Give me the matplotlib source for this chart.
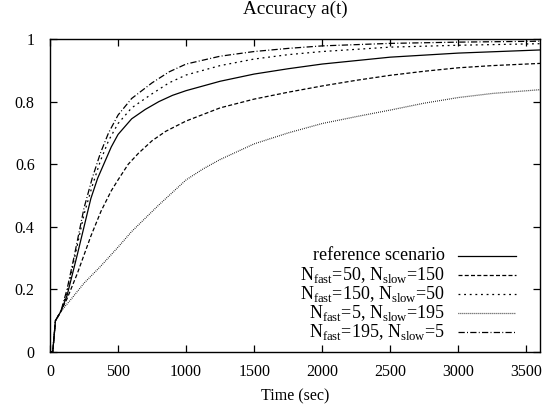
import matplotlib
matplotlib.use('Agg')
from matplotlib import pyplot as plt
import numpy as np

plt.rcParams['font.family'] = ['Liberation Serif', 'DejaVu Serif']
plt.rcParams['mathtext.fontset'] = 'custom'
plt.rcParams['mathtext.rm'] = 'Liberation Serif'
plt.rcParams['font.size'] = 11.5

# time axis (sec) for each series
t_ref = [0, 20, 40, 80, 125, 200, 250, 300, 350, 400, 450, 500, 600, 700, 800, 900, 1000,
         1250, 1500, 1750, 2000, 2500, 3000, 3600]
a_ref = [0, 0, 0.10, 0.13, 0.18, 0.31, 0.40, 0.49, 0.555, 0.605, 0.655, 0.695, 0.745, 0.775,
         0.80, 0.82, 0.835, 0.865, 0.888, 0.905, 0.92, 0.942, 0.955, 0.965]

t_50_150 = [0, 20, 40, 80, 125, 200, 250, 300, 375, 450, 500, 575, 650, 750, 850, 1000,
            1250, 1500, 1750, 2000, 2250, 2500, 2750, 3000, 3250, 3600]
a_50_150 = [0, 0, 0.10, 0.13, 0.17, 0.25, 0.31, 0.37, 0.45, 0.515, 0.55, 0.60, 0.635, 0.675,
            0.705, 0.738, 0.78, 0.808, 0.83, 0.85, 0.868, 0.884, 0.897, 0.908, 0.915, 0.922]

t_150_50 = [0, 20, 40, 80, 125, 175, 250, 310, 370, 430, 500, 600, 750, 875, 1000,
            1250, 1500, 1750, 2000, 2500, 3000, 3600]
a_150_50 = [0, 0, 0.10, 0.13, 0.19, 0.29, 0.44, 0.53, 0.61, 0.675, 0.73, 0.78, 0.825, 0.86,
            0.885, 0.915, 0.936, 0.95, 0.96, 0.974, 0.98, 0.985]

t_5_195 = [0, 20, 40, 80, 150, 250, 370, 500, 600, 800, 1000, 1125, 1250, 1500, 1750,
           2000, 2250, 2500, 2750, 3000, 3250, 3600]
a_5_195 = [0, 0, 0.10, 0.13, 0.166, 0.22, 0.273, 0.335, 0.385, 0.47, 0.55, 0.585, 0.615,
           0.665, 0.70, 0.73, 0.752, 0.773, 0.795, 0.813, 0.826, 0.838]

t_195_5 = [0, 20, 40, 80, 125, 175, 250, 310, 370, 430, 500, 600, 750, 875, 1000,
           1250, 1500, 1750, 2000, 2500, 3000, 3600]
a_195_5 = [0, 0, 0.10, 0.13, 0.20, 0.30, 0.46, 0.555, 0.635, 0.70, 0.757, 0.81, 0.86, 0.895,
           0.92, 0.945, 0.96, 0.97, 0.978, 0.986, 0.99, 0.993]

labels = ['reference scenario',
          r'N$_{\rm fast}$=50, N$_{\rm slow}$=150',
          r'N$_{\rm fast}$=150, N$_{\rm slow}$=50',
          r'N$_{\rm fast}$=5, N$_{\rm slow}$=195',
          r'N$_{\rm fast}$=195, N$_{\rm slow}$=5']

xticks = [0, 500, 1000, 1500, 2000, 2500, 3000, 3500]
yticks = [0, 0.2, 0.4, 0.6, 0.8, 1]
yticklabels = ['0', '0.2', '0.4', '0.6', '0.8', '1']

series = [(t_ref, a_ref), (t_50_150, a_50_150), (t_150_50, a_150_50),
          (t_5_195, a_5_195), (t_195_5, a_195_5)]
dashes = [(), (3.2, 1.8), (1.5, 3.0), (0.6, 1.0), (5, 1.8, 0.8, 1.8)]

fig = plt.figure(figsize=(5.58, 4.12), dpi=100)
ax = fig.add_axes([50/558, 1 - 352/412, 490/558, 313/412])

for (t, a), d in zip(series, dashes):
    line, = ax.plot(t, a, color='black', lw=0.9)
    if d:
        line.set_dashes(d)

# gnuplot style key: right justified text, sample line on the right
row_y = [0.307, 0.246, 0.185, 0.125, 0.064]
for lab, d, y in zip(labels, dashes, row_y):
    ax.text(0.806, y, lab, ha='right', va='center', fontsize=13, transform=ax.transAxes)
    sample, = ax.plot([0.833, 0.952], [y, y], color='black', lw=0.9, transform=ax.transAxes)
    if d:
        sample.set_dashes(d)

ax.set_xlim(0, 3600)
ax.set_ylim(0, 1)
ax.set_xticks(xticks)
ax.set_yticks(yticks)
ax.set_yticklabels(yticklabels)
ax.tick_params(direction='in', length=5, width=0.9, top=True, right=True)
ax.tick_params(axis='x', pad=9)
ax.tick_params(axis='y', pad=11)
for s in ax.spines.values():
    s.set_linewidth(1.0)

ax.set_title('Accuracy a(t)', pad=18)
ax.set_xlabel('Time (sec)', labelpad=6)

fig.savefig('out.png', dpi=100)
